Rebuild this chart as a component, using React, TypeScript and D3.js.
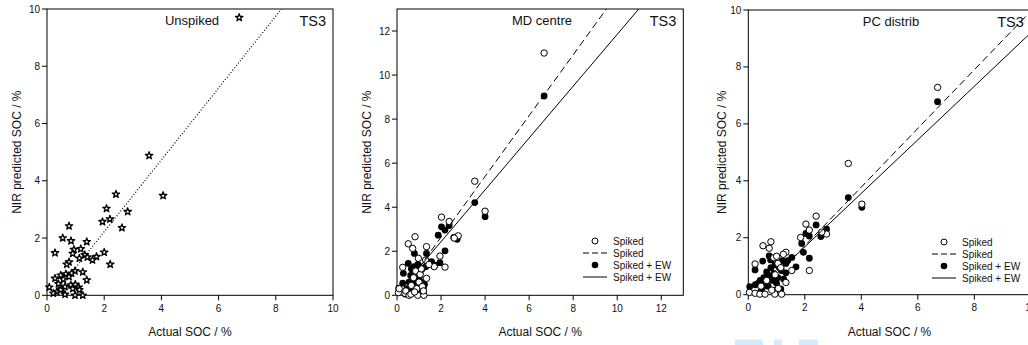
import React from 'react';
import * as d3 from 'd3';

// ---------- Data ----------
// Panel 1: Unspiked (stars)
const unspikedX = [6.72,3.57,4.06,2.41,2.08,2.82,1.94,2.20,2.62,0.77,0.55,0.84,1.39,0.28,2.00,1.18,0.94,0.90,1.32,1.41,1.13,1.73,1.59,2.21,0.77,0.69,1.25,0.98,0.86,0.66,0.48,0.28,1.39,0.77,0.57,0.40,0.83,0.99,1.11,0.08,0.51,0.34,0.22,0.63,0.98,1.25,1.13,0.90,0.48,0.63];
const unspikedY = [9.70,4.88,3.48,3.53,3.03,2.92,2.57,2.66,2.36,2.42,2.00,1.90,1.87,1.48,1.50,1.62,1.60,1.46,1.41,1.33,1.29,1.35,1.23,1.08,1.16,1.08,0.81,0.85,0.77,0.74,0.70,0.59,0.53,0.65,0.56,0.40,0.36,0.38,0.28,0.28,0.23,0.12,0.07,0.03,0.00,0.00,0.19,0.23,0.19,0.30];

// Panel 2: MD centre
const mdSpikedX = [6.68,3.53,4.00,2.02,2.37,2.78,2.60,0.82,0.51,0.71,1.34,1.95,0.97,2.18,1.69,0.26,1.34,0.06,0.10,0.36,0.40,0.55,0.63,0.65,0.75,0.85,0.90,0.94,1.00,1.05,1.10,1.22,1.15,1.30,1.45,0.80,1.20];
const mdSpikedY = [11.00,5.18,3.82,3.55,3.35,2.70,2.60,2.66,2.34,2.13,2.21,1.78,1.68,1.28,1.30,1.27,0.77,0.12,0.30,0.09,0.20,0.00,0.05,0.45,0.80,1.10,0.30,0.00,0.60,0.95,1.20,0.00,0.40,1.60,1.40,0.15,0.20];
const mdEwX = [6.68,3.53,4.00,2.02,2.18,2.37,1.87,2.73,2.58,2.18,1.95,0.79,1.34,0.29,0.51,1.57,1.72,1.37,0.08,0.26,0.38,0.45,0.55,0.60,0.62,0.65,0.70,0.72,0.75,0.78,0.80,0.82,0.85,0.88,0.90,0.92,0.95,0.98,1.00,1.02,1.05,1.10,1.15,1.20,1.25,1.30,0.68,1.20];
const mdEwY = [9.05,4.21,3.57,3.11,2.96,3.17,2.73,2.54,2.63,2.02,1.48,1.90,1.90,1.00,1.45,1.53,1.37,1.37,0.32,0.55,0.05,0.30,0.60,0.20,0.90,1.20,0.50,0.75,1.05,1.30,0.35,0.60,0.90,1.15,0.45,0.70,1.40,0.25,0.55,0.85,1.00,0.60,1.20,0.15,0.50,1.30,0.10,0.35];

// Panel 3: PC distrib
const pcSpikedX = [6.70,3.54,4.02,2.40,2.04,2.16,1.85,2.77,2.60,0.80,0.52,0.74,1.33,1.24,0.24,2.16,1.54,1.33,0.04,0.24,0.41,0.59,0.94,1.18,0.83,1.06,0.90,1.05,0.65,0.95,1.15,0.45,1.00];
const pcSpikedY = [7.28,4.61,3.18,2.76,2.48,2.27,2.01,2.13,2.20,1.86,1.72,1.63,1.49,1.42,1.08,0.85,0.85,0.43,0.08,0.05,0.02,0.02,0.02,0.02,0.16,0.22,1.30,1.10,0.50,0.70,0.95,0.30,1.35];
const pcEwX = [6.70,3.54,4.02,2.40,2.04,2.16,2.77,2.57,1.89,1.95,2.16,1.54,1.69,1.33,1.33,0.51,0.24,0.05,0.74,0.79,0.25,0.35,0.42,0.50,0.55,0.60,0.65,0.70,0.75,0.80,0.85,0.90,0.95,1.00,1.05,1.10,1.15,1.20,1.25,0.45,0.95,1.17,1.40];
const pcEwY = [6.78,3.41,3.07,2.45,2.15,2.06,2.30,2.04,1.80,1.49,1.28,1.31,0.98,1.10,0.77,1.18,0.87,0.28,1.36,1.22,0.35,0.40,0.50,0.25,0.60,0.45,0.80,0.30,0.65,0.95,0.50,0.75,1.05,0.40,0.60,0.95,0.20,1.20,0.55,0.15,0.15,0.85,1.20];

// Fitted lines: [slope, intercept, xStart]
const unspikedFit = [1.255, -0.29, 1.0];
const mdSpikedFit = [1.38, -0.12, 0.97];
const mdEwFit = [1.177, 0.08, 0.97];
const pcSpikedFit = [1.03, -0.34, 1.54];
const pcEwFit = [0.94, -0.2, 1.54];

const ticks10 = [0, 2, 4, 6, 8, 10];
const ticks12 = [0, 2, 4, 6, 8, 10, 12];
const legendLabels = ['Spiked', 'Spiked', 'Spiked + EW', 'Spiked + EW'];

const FONT = 'Liberation Sans, Arial, Helvetica, sans-serif';

type Fit = number[];

interface PanelProps {
  left: number; top: number; width: number; height: number;
  max: number; ticks: number[];
  title: string; titleX: number; yTitleOff: number;
  children: (x: d3.ScaleLinear<number, number>, y: d3.ScaleLinear<number, number>) => React.ReactNode;
}

function fitPath(x: d3.ScaleLinear<number, number>, y: d3.ScaleLinear<number, number>, fit: Fit, max: number) {
  const [m, b, x0] = fit;
  let x1 = (max - b) / m;
  if (x1 > max) x1 = max;
  const line = d3.line<number>().x(v => x(v)).y(v => y(m * v + b));
  return line([x0, x1]) || '';
}

function Panel({ left, top, width, height, max, ticks, title, titleX, yTitleOff, children }: PanelProps) {
  const x = d3.scaleLinear().domain([0, max]).range([left, left + width]);
  const y = d3.scaleLinear().domain([0, max]).range([top + height, top]);
  const bottom = top + height;
  return (
    <g>
      <rect x={left} y={top} width={width} height={height} fill="none" stroke="#000" strokeWidth={1} />
      {ticks.map(t => (
        <g key={'x' + t}>
          <line x1={x(t)} x2={x(t)} y1={bottom} y2={bottom + 5} stroke="#000" />
          <text x={x(t)} y={bottom + 16.5} textAnchor="middle" fontSize={10} fill="#111">{t}</text>
        </g>
      ))}
      {ticks.map(t => (
        <g key={'y' + t}>
          <line x1={left - 5} x2={left} y1={y(t)} y2={y(t)} stroke="#000" />
          <text x={left - 7} y={y(t)} dy="0.35em" textAnchor="end" fontSize={10} fill="#111">{t}</text>
        </g>
      ))}
      <text x={left + width / 2} y={336} textAnchor="middle" fontSize={12} fill="#111">Actual SOC / %</text>
      <text transform={`translate(${left + yTitleOff},${top + height / 2}) rotate(-90)`} dy="0.35em" textAnchor="middle" fontSize={12} fill="#111">NIR predicted SOC / %</text>
      <text x={titleX} y={top + 16} textAnchor="middle" fontSize={13} fill="#111">{title}</text>
      <text x={left + width - 7} y={top + 17} textAnchor="end" fontSize={14.5} fill="#111">TS3</text>
      {children(x, y)}
    </g>
  );
}

function Legend({ x0, y0 }: { x0: number; y0: number }) {
  const rows = [0, 12, 24, 36];
  return (
    <g>
      <circle cx={x0 + 12} cy={y0 + rows[0]} r={3} fill="#fff" stroke="#000" />
      <line x1={x0} x2={x0 + 24} y1={y0 + rows[1]} y2={y0 + rows[1]} stroke="#000" strokeDasharray="6,3" />
      <circle cx={x0 + 12} cy={y0 + rows[2]} r={3.3} fill="#000" />
      <line x1={x0} x2={x0 + 24} y1={y0 + rows[3]} y2={y0 + rows[3]} stroke="#000" />
      {legendLabels.map((l, i) => (
        <text key={i} x={x0 + 30} y={y0 + rows[i]} dy="0.35em" fontSize={10} fill="#111">{l}</text>
      ))}
    </g>
  );
}

export default function App() {
  const star = d3.symbol().type(d3.symbolStar).size(17)() || '';
  return (
    <svg width={1028} height={345} style={{ position: 'absolute', left: 0, top: 0, fontFamily: FONT, background: '#fff' }}>
      <defs>
        <clipPath id="c1"><rect x={47} y={9} width={286} height={286.3} /></clipPath>
        <clipPath id="c2"><rect x={397} y={9} width={286.3} height={286.3} /></clipPath>
        <clipPath id="c3"><rect x={748.3} y={10} width={282.5} height={284.7} /></clipPath>
      </defs>
      <Panel left={47} top={9} width={286} height={286.3} max={10} ticks={ticks10} title="Unspiked" titleX={192} yTitleOff={-30}>
        {(x, y) => (
          <g>
            <path d={fitPath(x, y, unspikedFit, 10)} stroke="#000" strokeWidth={1.2} strokeDasharray="1,2" fill="none" clipPath="url(#c1)" />
            {unspikedX.map((v, i) => (
              <path key={i} d={star} transform={`translate(${x(v)},${y(unspikedY[i])})`} fill="#fff" stroke="#000" strokeWidth={1.3} strokeLinejoin="round" />
            ))}
          </g>
        )}
      </Panel>
      <Panel left={397} top={9} width={286.3} height={286.3} max={13} ticks={ticks12} title="MD centre" titleX={542} yTitleOff={-30}>
        {(x, y) => (
          <g>
            {mdEwX.map((v, i) => (
              <circle key={'e' + i} cx={x(v)} cy={y(mdEwY[i])} r={3.4} fill="#000" />
            ))}
            {mdSpikedX.map((v, i) => (
              <circle key={'s' + i} cx={x(v)} cy={y(mdSpikedY[i])} r={3.2} fill="#fff" stroke="#000" strokeWidth={1} />
            ))}
            <path d={fitPath(x, y, mdSpikedFit, 13)} stroke="#000" strokeDasharray="7,4" fill="none" clipPath="url(#c2)" />
            <path d={fitPath(x, y, mdEwFit, 13)} stroke="#000" fill="none" clipPath="url(#c2)" />
            <Legend x0={583} y0={241} />
          </g>
        )}
      </Panel>
      <Panel left={748.3} top={10} width={282.5} height={284.7} max={10} ticks={ticks10} title="PC distrib" titleX={891} yTitleOff={-26.6}>
        {(x, y) => (
          <g>
            {pcEwX.map((v, i) => (
              <circle key={'e' + i} cx={x(v)} cy={y(pcEwY[i])} r={3.4} fill="#000" />
            ))}
            {pcSpikedX.map((v, i) => (
              <circle key={'s' + i} cx={x(v)} cy={y(pcSpikedY[i])} r={3.2} fill="#fff" stroke="#000" strokeWidth={1} />
            ))}
            <path d={fitPath(x, y, pcSpikedFit, 10)} stroke="#000" strokeDasharray="7,4" fill="none" clipPath="url(#c3)" />
            <path d={fitPath(x, y, pcEwFit, 10)} stroke="#000" fill="none" clipPath="url(#c3)" />
            <Legend x0={932} y0={242} />
          </g>
        )}
      </Panel>
      <rect x={735} y={339.5} width={28} height={6} fill="#d4ebfb" />
      <rect x={774} y={339.5} width={8} height={6} fill="#d4ebfb" />
      <rect x={799} y={339.5} width={19} height={6} fill="#d4ebfb" />
    </svg>
  );
}
